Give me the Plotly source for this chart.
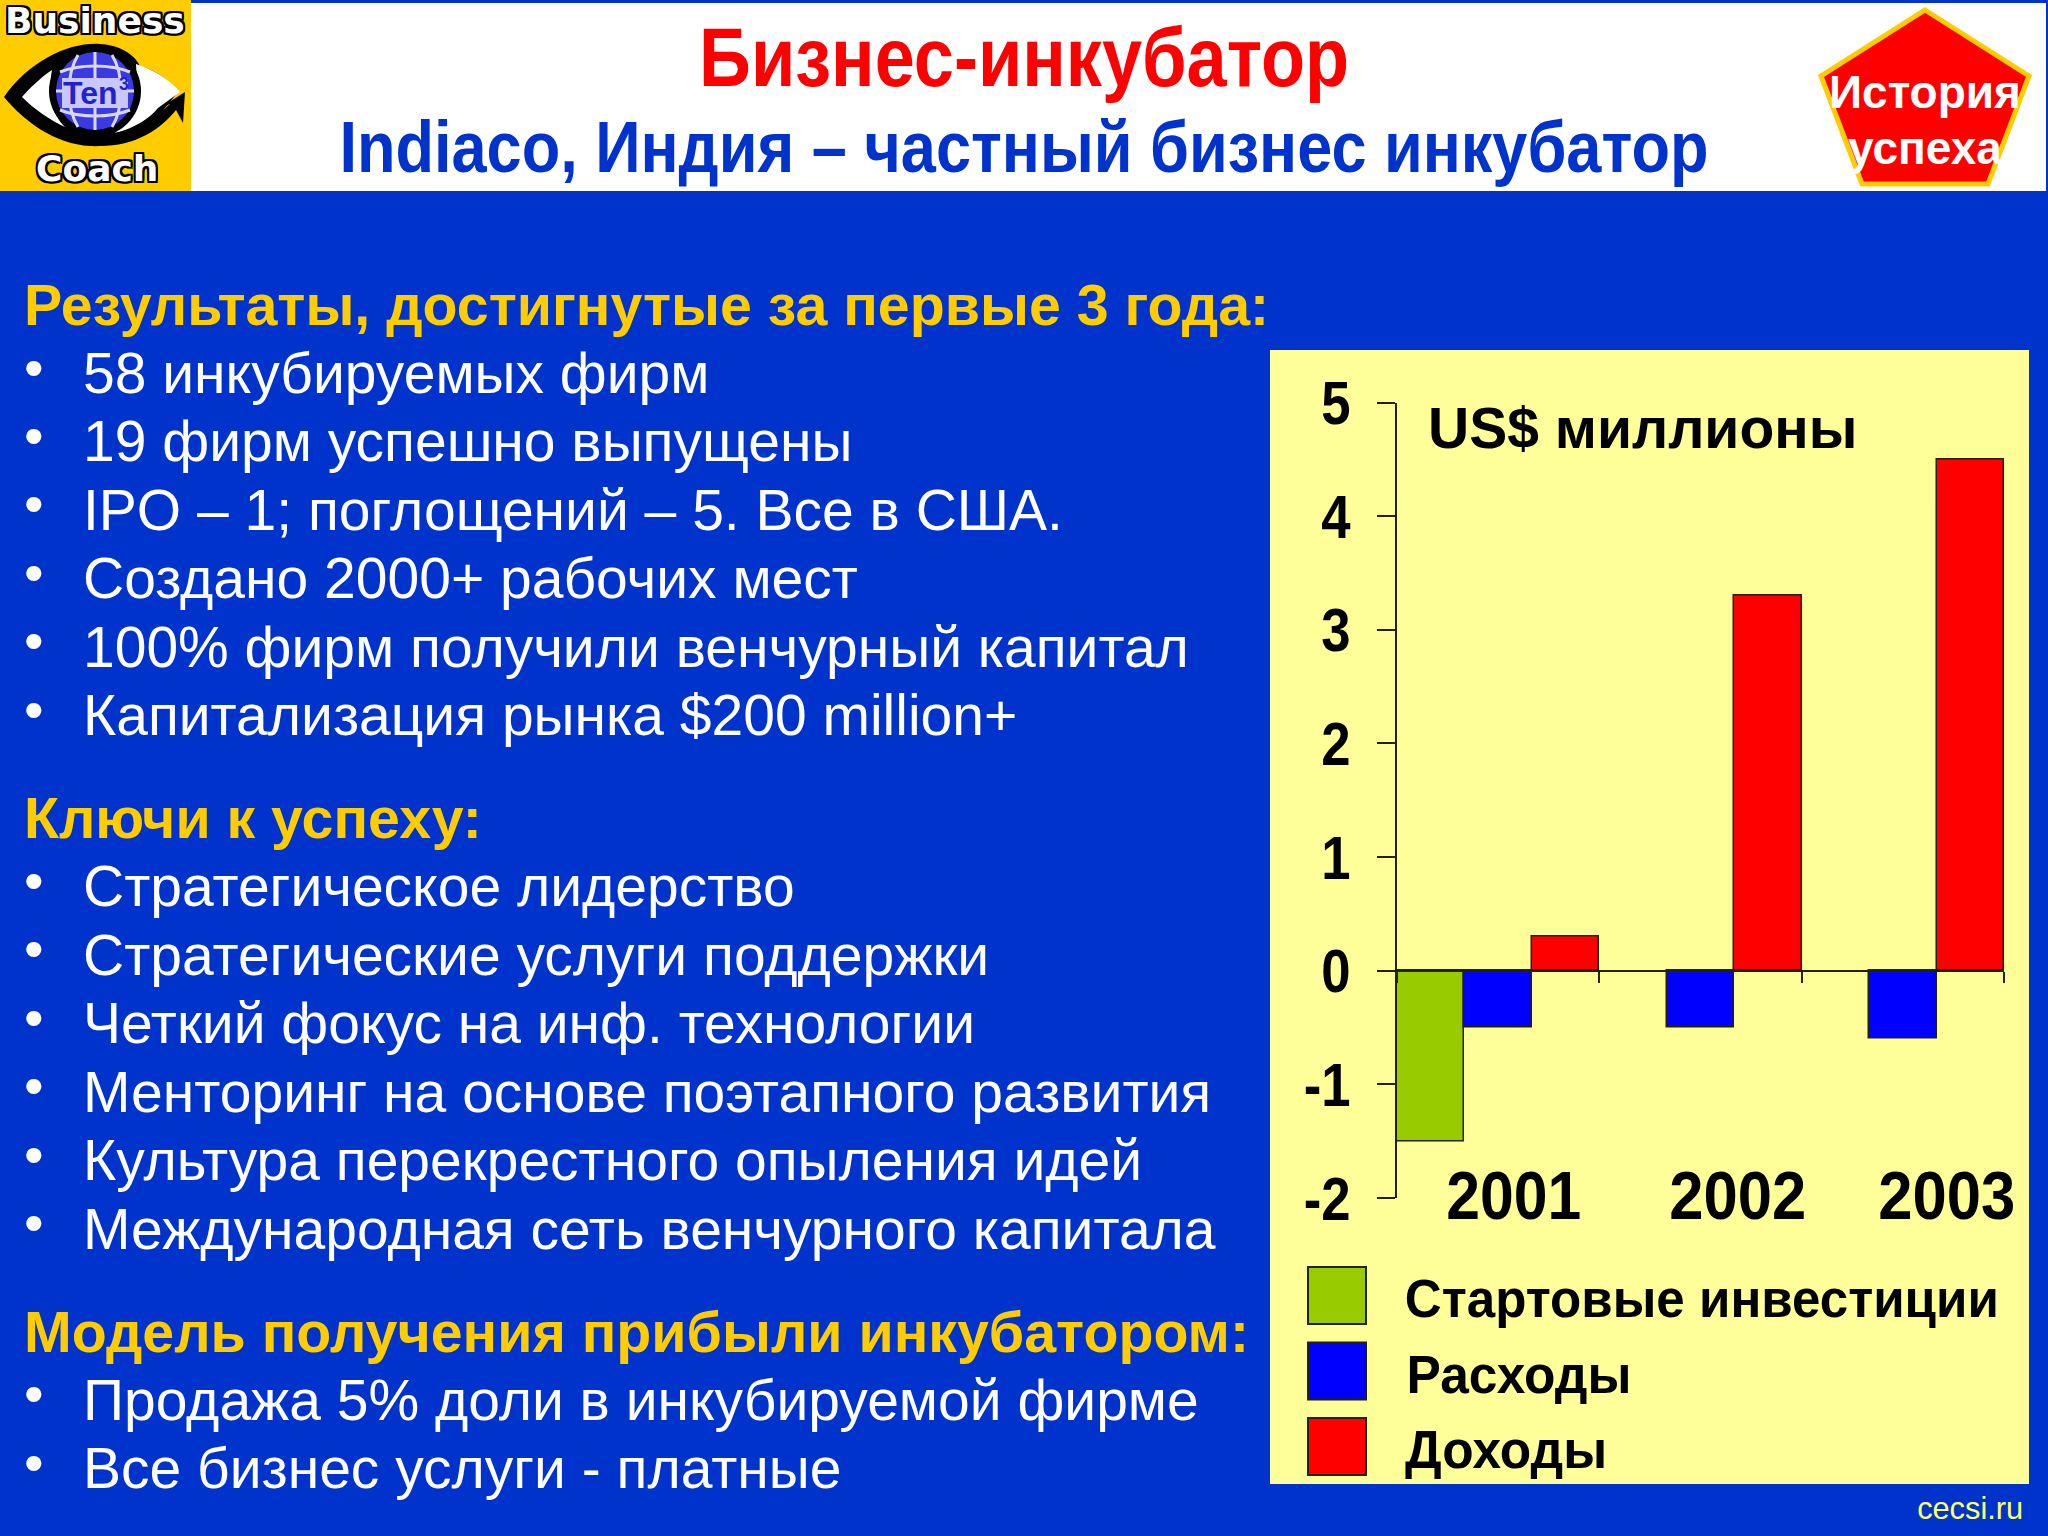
import json

import plotly.graph_objects as go

W = 2048
H = 1536

years = ['2001', '2002', '2003']
start_invest = [-1.5, None, None]
expenses = [-0.5, -0.5, -0.6]
income = [0.3, 3.3, 4.5]
series_names = ['Стартовые инвестиции', 'Расходы', 'Доходы']
series_colors = ['#99CC00', '#0000FF', '#FF0000']
y_ticks = [-2, -1, 0, 1, 2, 3, 4, 5]
y_tick_labels = ['-2', '-1', '0', '1', '2', '3', '4', '5']

headings = [
    'Результаты, достигнутые за первые 3 года:',
    'Ключи к успеху:',
    'Модель получения прибыли инкубатором:',
]
items = [
    ['58 инкубируемых фирм', '19 фирм успешно выпущены', 'IPO – 1; поглощений – 5. Все в США.',
     'Создано 2000+ рабочих мест', '100% фирм получили венчурный капитал',
     'Капитализация рынка $200 million+'],
    ['Стратегическое лидерство', 'Стратегические услуги поддержки', 'Четкий фокус на инф. технологии',
     'Менторинг на основе поэтапного развития', 'Культура перекрестного опыления идей',
     'Международная сеть венчурного капитала'],
    ['Продажа 5% доли в инкубируемой фирме', 'Все бизнес услуги - платные'],
]

BLUE = '#0033CC'
YELLOW = '#FFCC00'
SANS = 'Liberation Sans'

# the reference uses a narrow face that is not installed, so these get squeezed in the browser
narrow_widths = {
    'Бизнес-инкубатор': 650,
    'Indiaco, Индия – частный бизнес инкубатор': 1369,
    '2001': 135,
    '2002': 137,
    '2003': 137,
    'Стартовые инвестиции': 594,
    'Расходы': 225,
    'Доходы': 202,
    'cecsi.ru': 106,
}


def px(x):
    return x / W


def py(y):
    return 1 - y / H


def to_paper(path):
    out = []
    is_x = True
    for tok in path.split():
        if tok.isalpha():
            out.append(tok)
            is_x = True
        else:
            out.append(str(px(float(tok))) if is_x else str(py(float(tok))))
            is_x = not is_x
    return ' '.join(out)


fig = go.Figure()

for name, vals, color in zip(series_names, [start_invest, expenses, income], series_colors):
    fig.add_trace(go.Bar(x=years, y=vals, name=name, marker=dict(color=color, line=dict(color='#222200', width=1.5))))


def text(x, y, s, size, color='black', bold=False, family=SANS, anchor='left', shadow=None, width=None):
    font = dict(size=size, color=color, family=family, weight=700 if bold else 400)
    if shadow:
        font['shadow'] = shadow
    fig.add_annotation(x=px(x), y=py(y), xref='paper', yref='paper', text=s, showarrow=False,
                       xanchor=anchor, yanchor='middle', font=font, borderpad=0, width=width)


def rect(x0, y0, x1, y1, fill, line=None, width=0):
    fig.add_shape(type='rect', xref='paper', yref='paper', x0=px(x0), y0=py(y0), x1=px(x1), y1=py(y1),
                  fillcolor=fill, line=dict(color=line or fill, width=width), layer='below')


def path(d, fill, line=None, width=0):
    fig.add_shape(type='path', xref='paper', yref='paper', path=to_paper(d), fillcolor=fill,
                  line=dict(color=line or fill, width=width), layer='below')


def circle(cx, cy, r, fill):
    fig.add_shape(type='circle', xref='paper', yref='paper', x0=px(cx - r), y0=py(cy - r), x1=px(cx + r),
                  y1=py(cy + r), fillcolor=fill, line=dict(width=0), layer='below')


# header
rect(0, 3, 2046, 191, 'white')
text(1024, 58, 'Бизнес-инкубатор', 83, '#FF0000', True, anchor='center')
text(1024, 147, 'Indiaco, Индия – частный бизнес инкубатор', 72, BLUE, True, anchor='center', width=1400)

# logo
OUTLINE = '2px 0 0 #000,-2px 0 0 #000,0 2px 0 #000,0 -2px 0 #000,2px 2px 0 #000,-2px -2px 0 #000,2px -2px 0 #000,-2px 2px 0 #000'
rect(0, 0, 191, 191, YELLOW)
path('M 4 97 C 30 60 70 42 100 44 C 120 45 135 55 140 66 C 155 70 170 80 178 92 L 165 108 C 150 130 120 148 90 146 C 55 144 25 122 4 97 Z', 'black')
path('M 136 64 C 155 70 170 80 180 92 L 158 108 C 150 118 135 128 115 133 L 138 100 Z', 'white')
path('M 22 97 C 30 88 40 78 52 70 C 48 90 52 115 65 127 C 50 120 35 110 22 97 Z', 'white')
path('M 115 133 C 135 130 155 118 170 104 L 160 108 L 185 92 L 183 123 L 176 110 C 160 130 135 146 100 146 Z', 'black')
circle(95, 91, 46, 'black')
circle(95, 91, 39, '#3A3AE0')
for d in ['M 60 72 C 80 64 110 64 130 72', 'M 56 91 L 134 91', 'M 60 110 C 80 118 110 118 130 110',
          'M 95 52 L 95 130', 'M 78 55 C 66 75 66 107 78 127', 'M 112 55 C 124 75 124 107 112 127']:
    path(d, 'rgba(0,0,0,0)', '#D8D8FF', 3)
rect(62, 78, 128, 108, '#C8C8FF')
text(90, 93, 'Ten', 32, '#2222CC', True, anchor='center')
text(124, 84, '3', 18, '#2222CC', True, anchor='center')
text(95, 20, 'Business', 36, 'white', True, 'DejaVu Sans', 'center', OUTLINE)
text(97, 168, 'Coach', 36, 'white', True, 'DejaVu Sans', 'center', OUTLINE)

# badge
path('M 1925 10 L 2029 76 L 1988 184 L 1862 184 L 1821 76 Z', '#FF0000', YELLOW, 5)
text(1925, 92, 'История', 46, 'white', True, anchor='center')
text(1925, 148, 'успеха', 46, 'white', True, anchor='center')

# left column
y = 304.7
for head, rows in zip(headings, items):
    text(23, y, head, 57.3, YELLOW, True)
    y += 68.4
    for row in rows:
        text(23, y - 6, '•', 56, 'white')
        text(82, y, row, 57, 'white')
        y += 68.4
    y += 34.6

# chart panel
rect(1270, 350, 2029, 1484, '#FFFF99')
text(1427, 428, 'US$ миллионы', 57, 'black', True)
for label, cx in zip(years, [1513, 1737, 1946]):
    text(cx, 1195, label, 68, 'black', True, anchor='center')

legend_centers = [1702, 1519, 1506]
for i, (name, color) in enumerate(zip(series_names, series_colors)):
    top = 1267 + i * 75.5
    rect(1308, top, 1366, top + 57, color, '#222200', 2)
    text(legend_centers[i], top + 31, name, 54, 'black', True, anchor='center')

text(1970, 1508, 'cecsi.ru', 32, '#FFFF66', False, anchor='center')

fig.update_layout(
    width=W,
    height=H,
    margin=dict(l=0, r=0, t=0, b=0, autoexpand=False),
    paper_bgcolor=BLUE,
    plot_bgcolor='rgba(0,0,0,0)',
    showlegend=False,
    barmode='group',
    bargap=0,
    bargroupgap=0,
    xaxis=dict(
        domain=[px(1397), px(2004)],
        anchor='free',
        position=py(971),
        type='category',
        automargin=False,
        showgrid=False,
        showticklabels=False,
        showline=True,
        linecolor='#222200',
        linewidth=2,
        ticks='outside',
        tickson='boundaries',
        ticklen=11,
        tickcolor='#222200',
        tickwidth=2,
    ),
    yaxis=dict(
        domain=[py(1198), py(402.5)],
        range=[-2, 5],
        tickvals=y_ticks,
        ticktext=y_tick_labels,
        automargin=False,
        showgrid=False,
        zeroline=False,
        showline=True,
        linecolor='#222200',
        linewidth=2,
        ticks='outside',
        ticklen=18,
        tickcolor='#222200',
        tickwidth=2,
        ticklabelstandoff=14,
        tickfont=dict(size=62, color='black', family=SANS, weight=700),
    ),
)

squeeze = """
document.body.style.margin = '0';
var gd = document.getElementById('{plot_id}');
var widths = %s;
function squeeze() {
  document.querySelectorAll('text.annotation-text').forEach(function (t) {
    var w = widths[t.textContent];
    if (w) { t.setAttribute('textLength', w); t.setAttribute('lengthAdjust', 'spacingAndGlyphs'); }
  });
  document.querySelectorAll('.ytick text').forEach(function (t) {
    if (!t.getAttribute('textLength')) {
      t.setAttribute('textLength', t.getComputedTextLength() * 0.85);
      t.setAttribute('lengthAdjust', 'spacingAndGlyphs');
    }
  });
}
squeeze();
gd.on('plotly_afterplot', squeeze);
""" % json.dumps(narrow_widths, ensure_ascii=False)

fig.write_html('out.html', post_script=squeeze, config=dict(displayModeBar=False))
